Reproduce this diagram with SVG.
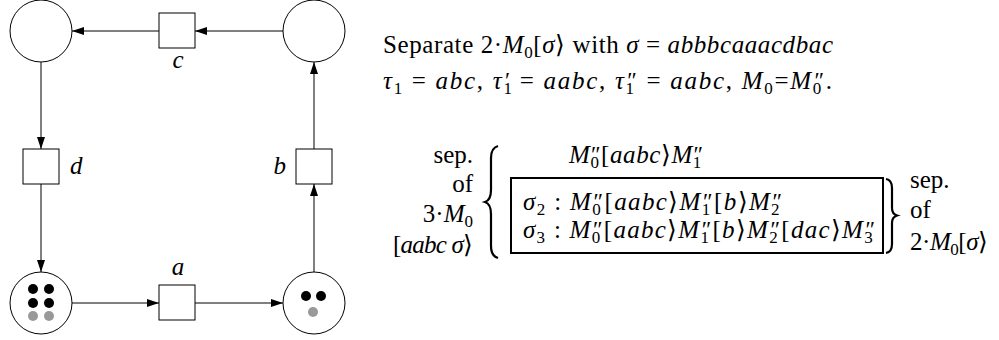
<svg xmlns="http://www.w3.org/2000/svg" width="999" height="340" viewBox="0 0 999 340" font-family="Liberation Serif">
<defs>
<style>
.pl{fill:#fff;stroke:#000;stroke-width:1}
.tr{fill:#fff;stroke:#000;stroke-width:1}
.ar{stroke:#000;stroke-width:1;fill:none;marker-end:url(#ah)}
.t{font-family:'Liberation Serif',serif;font-size:25px;fill:#000}
.i{font-style:italic}
.sb{font-size:17px;font-style:normal;baseline-shift:-5px}
.sp{font-size:23px;font-style:normal;baseline-shift:1px}
.tk{fill:#000}
.tg{fill:#999}
</style>
<marker id="ah" viewBox="0 0 12 8" refX="12" refY="4" markerWidth="12" markerHeight="8" orient="auto" markerUnits="userSpaceOnUse"><path d="M0,0 L12,4 L0,8 z" fill="#000"/></marker>
</defs>
<g id="connectors">
<line class="ar" x1="283" y1="31" x2="195" y2="31"/>
<line class="ar" x1="159" y1="31" x2="72" y2="31"/>
<line class="ar" x1="41" y1="62" x2="41" y2="149"/>
<line class="ar" x1="41" y1="184" x2="41" y2="272"/>
<line class="ar" x1="72" y1="303" x2="159" y2="303"/>
<line class="ar" x1="195" y1="303" x2="283" y2="303"/>
<line class="ar" x1="314" y1="272" x2="314" y2="184"/>
<line class="ar" x1="314" y1="149" x2="314" y2="62"/>
</g>
<g id="p-topleft"><circle class="pl" cx="41" cy="31" r="31"/></g>
<g id="p-topright"><circle class="pl" cx="314" cy="31" r="31"/></g>
<g id="p-bottomleft"><circle class="pl" cx="41" cy="303" r="31"/>
<circle class="tk" cx="33" cy="289" r="5"/><circle class="tk" cx="49" cy="289" r="5"/>
<circle class="tk" cx="33" cy="303" r="5"/><circle class="tk" cx="49" cy="303" r="5"/>
<circle class="tg" cx="33" cy="316" r="5"/><circle class="tg" cx="49" cy="316" r="5"/></g>
<g id="p-bottomright"><circle class="pl" cx="314" cy="303" r="31"/>
<circle class="tk" cx="306" cy="296" r="5"/><circle class="tk" cx="321" cy="296" r="5"/>
<circle class="tg" cx="313" cy="312" r="5"/></g>
<g id="t-c"><rect class="tr" x="159" y="13" width="36" height="35"/><text class="t i" x="178" y="68" text-anchor="middle">c</text></g>
<g id="t-d"><rect class="tr" x="23" y="149" width="36" height="35"/><text class="t i" x="70" y="174">d</text></g>
<g id="t-b"><rect class="tr" x="296" y="149" width="36" height="35"/><text class="t i" x="286" y="174" text-anchor="end">b</text></g>
<g id="t-a"><rect class="tr" x="159" y="285" width="36" height="35"/><text class="t i" x="178" y="275" text-anchor="middle">a</text></g>

<g id="text">
<text class="t" x="383" y="53" textLength="450" lengthAdjust="spacing">Separate 2·<tspan class="i">M</tspan><tspan class="sb">0</tspan>[<tspan class="i">σ</tspan>⟩ with <tspan class="i">σ</tspan> = <tspan class="i">abbbcaaacdbac</tspan></text>
<text class="t" x="383" y="89" textLength="449" lengthAdjust="spacing"><tspan class="i">τ</tspan><tspan class="sb">1</tspan> = <tspan class="i">abc</tspan>,  <tspan class="i">τ</tspan><tspan class="sb">1</tspan><tspan class="sp" dx="-8.5">′</tspan> = <tspan class="i">aabc</tspan>,  <tspan class="i">τ</tspan><tspan class="sb">1</tspan><tspan class="sp" dx="-8.5">″</tspan> = <tspan class="i">aabc</tspan>,  <tspan class="i">M</tspan><tspan class="sb">0</tspan>=<tspan class="i">M</tspan><tspan class="sb">0</tspan><tspan class="sp" dx="-8.5">″</tspan>.</text>

<text class="t" x="473" y="163" text-anchor="end">sep.</text>
<text class="t" x="473" y="192" text-anchor="end">of</text>
<text class="t" x="473" y="222" text-anchor="end">3·<tspan class="i">M</tspan><tspan class="sb">0</tspan></text>
<text class="t" x="473" y="253" text-anchor="end" textLength="80" lengthAdjust="spacing">[<tspan class="i">aabc σ</tspan>⟩</text>

<path d="M498,146 Q491,148 491,158 L491,190 Q491,200 485,202 Q491,204 491,214 L491,246 Q491,256 498,258" fill="none" stroke="#000" stroke-width="2.2"/>

<text class="t" x="569" y="163" textLength="134" lengthAdjust="spacing"><tspan class="i">M</tspan><tspan class="sb">0</tspan><tspan class="sp" dx="-8.5">″</tspan>[<tspan class="i">aabc</tspan>⟩<tspan class="i">M</tspan><tspan class="sb">1</tspan><tspan class="sp" dx="-8.5">″</tspan></text>

<rect x="511" y="178" width="372" height="75" fill="none" stroke="#000" stroke-width="2"/>
<text class="t" x="523" y="210" textLength="259" lengthAdjust="spacing"><tspan class="i">σ</tspan><tspan class="sb">2</tspan> : <tspan class="i">M</tspan><tspan class="sb">0</tspan><tspan class="sp" dx="-8.5">″</tspan>[<tspan class="i">aabc</tspan>⟩<tspan class="i">M</tspan><tspan class="sb">1</tspan><tspan class="sp" dx="-8.5">″</tspan>[<tspan class="i">b</tspan>⟩<tspan class="i">M</tspan><tspan class="sb">2</tspan><tspan class="sp" dx="-8.5">″</tspan></text>
<text class="t" x="523" y="238" textLength="352" lengthAdjust="spacing"><tspan class="i">σ</tspan><tspan class="sb">3</tspan> : <tspan class="i">M</tspan><tspan class="sb">0</tspan><tspan class="sp" dx="-8.5">″</tspan>[<tspan class="i">aabc</tspan>⟩<tspan class="i">M</tspan><tspan class="sb">1</tspan><tspan class="sp" dx="-8.5">″</tspan>[<tspan class="i">b</tspan>⟩<tspan class="i">M</tspan><tspan class="sb">2</tspan><tspan class="sp" dx="-8.5">″</tspan>[<tspan class="i">dac</tspan>⟩<tspan class="i">M</tspan><tspan class="sb">3</tspan><tspan class="sp" dx="-8.5">″</tspan></text>

<path d="M886,179 Q892,180 892,188 L892,208 Q892,214 897,215.5 Q892,217 892,223 L892,244 Q892,252 886,253" fill="none" stroke="#000" stroke-width="2.2"/>

<text class="t" x="910" y="188">sep.</text>
<text class="t" x="910" y="218">of</text>
<text class="t" x="910" y="250" textLength="78" lengthAdjust="spacing">2·<tspan class="i">M</tspan><tspan class="sb">0</tspan>[<tspan class="i">σ</tspan>⟩</text>
</g>
</svg>
